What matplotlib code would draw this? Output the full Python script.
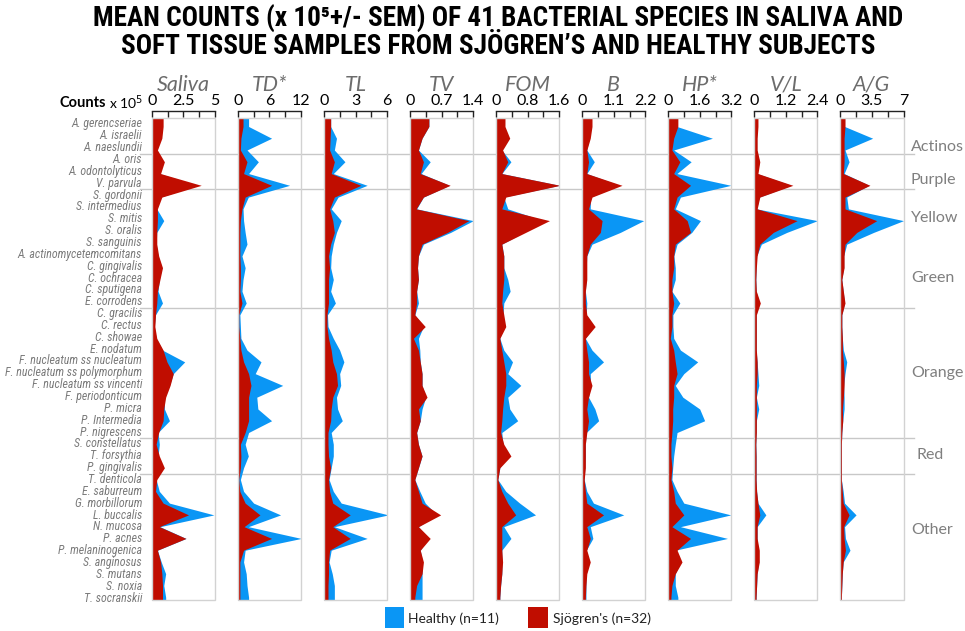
import numpy as np
import matplotlib
matplotlib.use("Agg")
import matplotlib.pyplot as plt
from matplotlib import font_manager
from matplotlib.patches import Rectangle
from matplotlib.lines import Line2D

species = [
    "A. gerencseriae", "A. israelii", "A. naeslundii", "A. oris", "A. odontolyticus",
    "V. parvula", "S. gordonii", "S. intermedius", "S. mitis", "S. oralis",
    "S. sanguinis", "A. actinomycetemcomitans", "C. gingivalis", "C. ochracea",
    "C. sputigena", "E. corrodens", "C. gracilis", "C. rectus", "C. showae",
    "E. nodatum", "F. nucleatum ss nucleatum", "F. nucleatum ss polymorphum",
    "F. nucleatum ss vincenti", "F. periodonticum", "P. micra", "P. Intermedia",
    "P. nigrescens", "S. constellatus", "T. forsythia", "P. gingivalis",
    "T. denticola", "E. saburreum", "G. morbillorum", "L. buccalis", "N. mucosa",
    "P. acnes", "P. melaninogenica", "S. anginosus", "S. mutans", "S. noxia",
    "T. socranskii",
]

sites = ["Saliva", "TD*", "TL", "TV", "FOM", "B", "HP*", "V/L", "A/G"]
site_max = [5, 12, 6, 1.4, 1.6, 2.2, 3.2, 2.4, 7]
site_ticklabels = [["0", "2.5", "5"], ["0", "6", "12"], ["0", "3", "6"],
                   ["0", "0.7", "1.4"], ["0", "0.8", "1.6"], ["0", "1.1", "2.2"],
                   ["0", "1.6", "3.2"], ["0", "1.2", "2.4"], ["0", "3.5", "7"]]

groups = ["Actinos", "Purple", "Yellow", "Green", "Orange", "Red", "Other"]
group_breaks = [2, 5, 15, 26, 29]   # line drawn after these species

# mean counts x 10^5
saliva_healthy = [0.8, 0.7, 0.4, 0.9, 0.6, 3.6, 0.7, 0.4, 0.95, 0.4, 0.35, 0.5, 0.8, 0.6, 0.5, 0.85,
                  0.3, 0.2, 0.35, 0.85, 2.6, 1.7, 1.4, 1.0, 1.0, 1.4, 0.5, 0.6, 0.5, 0.9, 0.35, 0.6,
                  1.4, 4.9, 0.65, 2.7, 0.45, 0.75, 1.1, 0.95, 1.1]
saliva_sjogren = [0.9, 0.8, 0.45, 1.0, 0.7, 3.9, 0.8, 0.45, 0.45, 0.4, 0.4, 0.55, 0.85, 0.65, 0.45, 0.4,
                  0.3, 0.25, 0.4, 0.9, 1.2, 1.7, 1.45, 1.1, 0.95, 0.9, 0.55, 0.35, 0.6, 1.0, 0.4, 0.3,
                  0.9, 2.9, 0.6, 2.7, 0.45, 0.7, 0.8, 0.85, 0.85]
td_healthy = [2.05, 6.4, 1.75, 3.9, 2.05, 9.8, 2.0, 1.0, 1.1, 1.4, 1.75, 0.8, 1.4, 1.0, 0.8, 1.6,
              0.4, 0.5, 0.6, 1.75, 4.4, 3.3, 8.5, 3.6, 3.8, 6.4, 2.05, 1.4, 2.0, 1.1, 0.5, 1.1,
              3.0, 8.1, 2.0, 12.0, 1.4, 1.1, 1.6, 1.75, 2.05]
td_sjogren = [1.0, 0.6, 0.5, 1.75, 1.1, 6.4, 1.4, 0.8, 0.5, 0.4, 0.4, 0.4, 0.5, 0.5, 0.4, 0.8,
              0.2, 0.2, 0.4, 0.6, 1.1, 2.05, 2.5, 2.05, 2.05, 2.05, 1.4, 0.5, 0.6, 0.5, 0.2, 0.4,
              1.4, 4.2, 1.2, 6.4, 1.1, 0.4, 0.4, 0.4, 0.4]
tl_healthy = [0.65, 1.2, 1.0, 2.0, 0.9, 4.1, 1.35, 0.7, 1.65, 1.2, 0.9, 0.7, 0.65, 0.9, 0.65, 1.1,
              0.35, 0.4, 0.9, 1.5, 1.9, 1.5, 1.6, 1.2, 1.3, 1.75, 0.7, 0.9, 0.9, 0.7, 0.5, 0.9,
              1.65, 6.1, 1.0, 4.1, 0.7, 0.5, 0.8, 1.0, 1.0]
tl_sjogren = [0.65, 0.6, 0.55, 1.0, 0.7, 3.5, 1.0, 0.55, 0.85, 1.0, 0.65, 0.45, 0.55, 0.45, 0.45, 0.45,
              0.3, 0.3, 0.45, 0.7, 0.85, 1.2, 1.3, 0.85, 0.7, 0.65, 0.4, 0.4, 0.45, 0.65, 0.45, 0.55,
              0.85, 2.5, 0.85, 2.5, 0.55, 0.45, 0.45, 0.4, 0.4]
tv_healthy = [0.42, 0.27, 0.19, 0.45, 0.25, 0.87, 0.3, 0.15, 1.4, 0.9, 0.3, 0.19, 0.17, 0.19, 0.15, 0.19,
              0.11, 0.3, 0.19, 0.22, 0.23, 0.27, 0.27, 0.35, 0.27, 0.23, 0.15, 0.19, 0.27, 0.19, 0.11, 0.22,
              0.34, 0.6, 0.19, 0.4, 0.23, 0.28, 0.27, 0.27, 0.27]
tv_sjogren = [0.42, 0.27, 0.19, 0.3, 0.23, 0.89, 0.3, 0.14, 1.3, 0.83, 0.27, 0.19, 0.17, 0.19, 0.15, 0.15,
              0.11, 0.34, 0.08, 0.19, 0.23, 0.27, 0.27, 0.38, 0.19, 0.23, 0.15, 0.19, 0.27, 0.19, 0.11, 0.19,
              0.27, 0.68, 0.19, 0.45, 0.23, 0.3, 0.27, 0.15, 0.11]
fom_healthy = [0.2, 0.3, 0.15, 0.38, 0.15, 1.6, 0.2, 0.3, 1.2, 0.7, 0.15, 0.2, 0.2, 0.3, 0.36, 0.2,
               0.18, 0.2, 0.1, 0.2, 0.42, 0.3, 0.63, 0.3, 0.35, 0.55, 0.15, 0.18, 0.3, 0.1, 0.05, 0.25,
               0.6, 1.0, 0.2, 0.38, 0.15, 0.15, 0.15, 0.12, 0.1]
fom_sjogren = [0.23, 0.35, 0.17, 0.3, 0.15, 1.62, 0.25, 0.15, 1.35, 0.75, 0.15, 0.2, 0.2, 0.2, 0.17, 0.15,
               0.2, 0.25, 0.1, 0.15, 0.2, 0.25, 0.25, 0.2, 0.17, 0.15, 0.12, 0.2, 0.38, 0.1, 0.05, 0.15,
               0.3, 0.5, 0.15, 0.15, 0.15, 0.17, 0.15, 0.12, 0.1]
b_healthy = [0.3, 0.25, 0.17, 0.43, 0.17, 1.3, 0.3, 0.29, 2.14, 1.33, 0.35, 0.17, 0.15, 0.15, 0.12, 0.17,
             0.15, 0.4, 0.12, 0.35, 0.75, 0.29, 0.3, 0.23, 0.45, 0.58, 0.15, 0.12, 0.12, 0.1, 0.08, 0.17,
             0.4, 1.45, 0.29, 0.38, 0.15, 0.25, 0.15, 0.14, 0.14]
b_sjogren = [0.35, 0.29, 0.17, 0.23, 0.17, 1.39, 0.35, 0.23, 0.7, 0.64, 0.29, 0.17, 0.17, 0.17, 0.12, 0.12,
             0.17, 0.46, 0.12, 0.17, 0.23, 0.23, 0.35, 0.23, 0.17, 0.23, 0.17, 0.12, 0.12, 0.12, 0.08, 0.12,
             0.17, 0.75, 0.17, 0.29, 0.17, 0.29, 0.17, 0.14, 0.12]
hp_healthy = [0.45, 2.24, 0.29, 1.17, 0.45, 3.17, 0.63, 0.37, 1.64, 1.2, 0.46, 0.3, 0.37, 0.37, 0.2, 0.6,
              0.25, 0.25, 0.29, 0.63, 1.5, 0.8, 0.37, 0.75, 1.6, 1.85, 0.46, 0.37, 0.29, 0.24, 0.2, 0.46,
              0.8, 3.17, 0.63, 3.0, 0.37, 0.63, 0.37, 0.37, 0.5]
hp_sjogren = [0.5, 0.29, 0.2, 0.6, 0.29, 1.14, 0.46, 0.29, 0.97, 1.14, 0.37, 0.29, 0.29, 0.2, 0.2, 0.29,
              0.2, 0.2, 0.12, 0.29, 0.37, 0.46, 0.29, 0.29, 0.24, 0.24, 0.2, 0.15, 0.15, 0.2, 0.15, 0.29,
              0.37, 0.8, 0.2, 1.14, 0.46, 0.71, 0.37, 0.2, 0.15]
vl_healthy = [0.12, 0.1, 0.1, 0.2, 0.12, 1.4, 0.2, 0.1, 2.4, 1.24, 0.28, 0.1, 0.08, 0.07, 0.08, 0.2,
              0.08, 0.08, 0.08, 0.08, 0.12, 0.15, 0.18, 0.09, 0.18, 0.09, 0.08, 0.07, 0.08, 0.08, 0.08, 0.1,
              0.15, 0.45, 0.12, 0.12, 0.15, 0.18, 0.12, 0.1, 0.08]
vl_sjogren = [0.15, 0.12, 0.12, 0.22, 0.15, 1.47, 0.22, 0.12, 1.63, 0.73, 0.22, 0.12, 0.09, 0.07, 0.09, 0.24,
              0.09, 0.09, 0.09, 0.09, 0.12, 0.12, 0.09, 0.09, 0.09, 0.09, 0.09, 0.07, 0.08, 0.08, 0.08, 0.1,
              0.15, 0.22, 0.12, 0.12, 0.2, 0.2, 0.12, 0.1, 0.08]
ag_healthy = [0.5, 3.6, 0.55, 1.0, 0.45, 3.2, 0.74, 0.92, 7.0, 3.7, 0.74, 0.4, 0.4, 0.2, 0.35, 0.5,
              0.2, 0.2, 0.26, 0.37, 0.74, 0.55, 0.4, 0.45, 0.45, 0.3, 0.2, 0.15, 0.15, 0.15, 0.15, 0.35,
              0.5, 1.77, 0.5, 0.6, 1.1, 0.35, 0.25, 0.2, 0.15]
ag_sjogren = [0.55, 0.45, 0.45, 0.45, 0.37, 3.3, 0.55, 0.55, 4.05, 1.85, 0.55, 0.45, 0.45, 0.2, 0.37, 0.55,
              0.2, 0.2, 0.26, 0.26, 0.37, 0.45, 0.45, 0.37, 0.26, 0.3, 0.2, 0.15, 0.15, 0.15, 0.15, 0.25,
              0.35, 1.0, 0.4, 0.45, 0.6, 0.35, 0.25, 0.2, 0.15]

healthy = [saliva_healthy, td_healthy, tl_healthy, tv_healthy, fom_healthy,
           b_healthy, hp_healthy, vl_healthy, ag_healthy]
sjogren = [saliva_sjogren, td_sjogren, tl_sjogren, tv_sjogren, fom_sjogren,
           b_sjogren, hp_sjogren, vl_sjogren, ag_sjogren]

BLUE = "#0a96f5"
RED = "#c00d00"
GREY = "#7a7a7a"

names = {f.name for f in font_manager.fontManager.ttflist}
base = "Lato" if "Lato" in names else "DejaVu Sans"
narrow = base
for cand in ["Liberation Sans Narrow", "DejaVu Sans Condensed", "Roboto Condensed",
             "Open Sans Condensed"]:
    if cand in names:
        narrow = cand
        break
plt.rcParams["font.family"] = [base, "DejaVu Sans"]

W, H = 965, 631
fig = plt.figure(figsize=(W / 100, H / 100), dpi=100)


def fx(px):
    return px / W


def fy(py):
    return 1 - py / H


box_top, box_bot = 118, 600
y_top, y_bot = -0.72, 40.23
n = len(species)
y = np.arange(n)
yy = np.r_[y_top, y, y_bot]

for k, site in enumerate(sites):
    left = 151.7 + 86.04 * k
    ax = fig.add_axes([fx(left), fy(box_bot), fx(63.5), (box_bot - box_top) / H])
    ax.set_facecolor("none")
    h = np.asarray(healthy[k], float)
    s = np.asarray(sjogren[k], float)
    ax.fill_betweenx(yy, 0, np.r_[h[0], h, h[-1]], color=BLUE, lw=0)
    ax.fill_betweenx(yy, 0, np.r_[s[0], s, s[-1]], color=RED, lw=0)
    ax.set_xlim(0, site_max[k])
    ax.set_ylim(y_bot, y_top)
    ax.add_patch(Rectangle((0, 0), 1, 1, transform=ax.transAxes, fill=False,
                           ec="#d2d2d2", lw=1, clip_on=False))
    for side in ["left", "right", "bottom"]:
        ax.spines[side].set_visible(False)
    ax.spines["top"].set_position(("outward", 5))
    ax.spines["top"].set_color("#222222")
    ax.spines["top"].set_linewidth(1)
    ax.xaxis.tick_top()
    m = site_max[k]
    ax.set_xticks([0, m / 2, m])
    ax.set_xticklabels(site_ticklabels[k])
    ax.set_xticks([m / 4, 3 * m / 4], minor=True)
    ax.tick_params(axis="x", which="both", direction="in", length=4, width=1,
                   color="#222222", pad=2, labelsize=11.5, labelcolor="black")
    ax.set_yticks([])
    fig.text(fx(left + 31.75), fy(85), site, ha="center", va="center",
             fontsize=15.5, style="italic", color="#6c6c6c")

# species labels
lab_y = 124 + 11.85 * np.arange(n)
for name, py in zip(species, lab_y):
    fig.text(fx(142), fy(py), name, ha="right", va="center", fontsize=8.6,
             style="italic", color=GREY, family=[narrow, "DejaVu Sans"])

# group separators
for b in group_breaks:
    py = 124 + 11.85 * (b + 0.5)
    fig.add_artist(Line2D([fx(140), fx(914)], [fy(py), fy(py)], color="#c8c8c8",
                          lw=1, zorder=-1))

group_pos = [(911, 147), (911, 180), (911, 218), (911, 278), (911, 373), (917, 455), (911, 530)]
for g, (px, py) in zip(groups, group_pos):
    fig.text(fx(px), fy(py), g, ha="left", va="center", fontsize=11.5, color="#7f7f7f")

# counts label
fig.text(fx(109), fy(103), "x 10$^5$", ha="left", va="center", fontsize=10, color="black")
fig.text(fx(106), fy(103), "Counts", ha="right", va="center", fontsize=10.5,
         fontweight="bold", color="black")

# title
t1 = fig.text(fx(498), fy(19), "MEAN COUNTS (x 10\u2075+/- SEM) OF 41 BACTERIAL SPECIES IN SALIVA AND",
              ha="center", va="center", fontsize=20, fontweight="bold",
              family=[narrow, "DejaVu Sans"], color="black")
t2 = fig.text(fx(498), fy(47), "SOFT TISSUE SAMPLES FROM SJÖGREN\u2019S AND HEALTHY SUBJECTS",
              ha="center", va="center", fontsize=20, fontweight="bold",
              family=[narrow, "DejaVu Sans"], color="black")
fig.canvas.draw()
r = fig.canvas.get_renderer()
w1 = t1.get_window_extent(r).width
scale = 813 / w1
t1.set_fontsize(20 * scale)
t2.set_fontsize(20 * scale)

# legend
fig.add_artist(Rectangle((fx(385), fy(628)), fx(19), 21 / H, color=BLUE, lw=0))
fig.text(fx(408), fy(619), "Healthy (n=11)", ha="left", va="center", fontsize=10, color="#222222")
fig.add_artist(Rectangle((fx(528), fy(628)), fx(20), 21 / H, color=RED, lw=0))
fig.text(fx(553), fy(619), "Sjögren's (n=32)", ha="left", va="center", fontsize=10, color="#222222")

fig.savefig("out.png", dpi=100)
